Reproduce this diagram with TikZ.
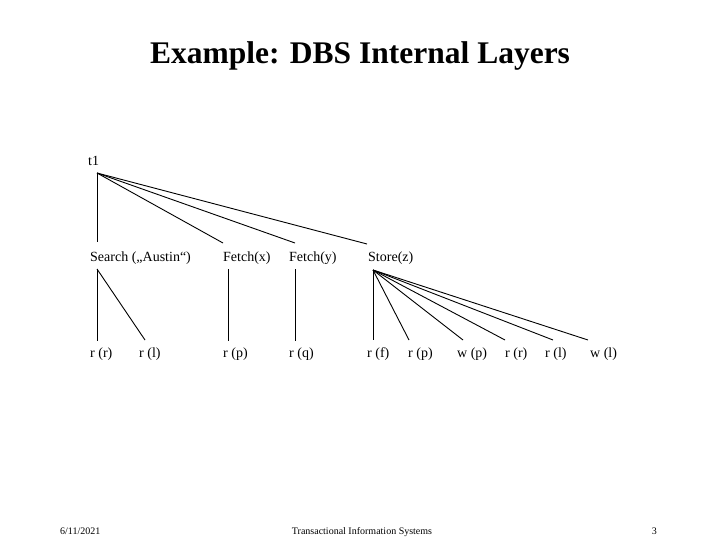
\documentclass[tikz,border=0pt]{standalone}
\usepackage{fontspec}
\setmainfont{Liberation Serif}
\begin{document}
\begin{tikzpicture}[x=1pt,y=-1pt,
  lbl/.style={anchor=base west,inner sep=0pt,font=\fontsize{14}{16}\selectfont},
  edge/.style={line width=0.9pt}]
\useasboundingbox (0,0) rectangle (720,540);
\node[anchor=base,inner sep=0pt,font=\fontsize{31.5}{36}\selectfont\bfseries] (title) at (360,64) {Example: DBS Internal Layers};
% root
\node[lbl] (t1) at (88,166) {t1};
\coordinate (t1o) at (97,173);
% level 1
\node[lbl] (search) at (90,261) {Search („Austin“)};
\node[lbl] (fx) at (223,261) {Fetch(x)};
\node[lbl] (fy) at (289,261) {Fetch(y)};
\node[lbl] (sz) at (368,261) {Store(z)};
\coordinate (searchT) at (97,242);
\coordinate (fxT) at (223,243);
\coordinate (fyT) at (295,243);
\coordinate (szT) at (367,244);
\draw[edge] (t1o) -- (searchT);
\draw[edge] (t1o) -- (fxT);
\draw[edge] (t1o) -- (fyT);
\draw[edge] (t1o) -- (szT);
% level 2
\node[lbl] (rr1) at (90,357) {r (r)};
\node[lbl] (rl1) at (139,357) {r (l)};
\node[lbl] (rp1) at (223,357) {r (p)};
\node[lbl] (rq) at (289,357) {r (q)};
\node[lbl] (rf) at (367,357) {r (f)};
\node[lbl] (rp2) at (408,357) {r (p)};
\node[lbl] (wp) at (457,357) {w (p)};
\node[lbl] (rr2) at (505,357) {r (r)};
\node[lbl] (rl2) at (545,357) {r (l)};
\node[lbl] (wl) at (590,357) {w (l)};
\coordinate (searchB) at (97,269);
\coordinate (fxB) at (228,269);
\coordinate (fyB) at (295,269);
\coordinate (szB) at (373,270);
\coordinate (rr1T) at (97,341);
\coordinate (rl1T) at (145,340);
\coordinate (rp1T) at (228,341);
\coordinate (rqT) at (295,341);
\coordinate (rfT) at (373,340);
\coordinate (rp2T) at (409,340);
\coordinate (wpT) at (463,340);
\coordinate (rr2T) at (505,340);
\coordinate (rl2T) at (553,340);
\coordinate (wlT) at (588,340);
\draw[edge] (searchB) -- (rr1T);
\draw[edge] (searchB) -- (rl1T);
\draw[edge] (fxB) -- (rp1T);
\draw[edge] (fyB) -- (rqT);
\foreach \t in {rfT,rp2T,wpT,rr2T,rl2T,wlT} \draw[edge] (szB) -- (\t);
% footer
\node[anchor=base west,inner sep=0pt,font=\fontsize{10}{12}\selectfont] (date) at (60,534) {6/11/2021};
\node[anchor=base,inner sep=0pt,font=\fontsize{10}{12}\selectfont] (foot) at (362,534) {Transactional Information Systems};
\node[anchor=base east,inner sep=0pt,font=\fontsize{10}{12}\selectfont] (page) at (657,534) {3};
\end{tikzpicture}
\end{document}
